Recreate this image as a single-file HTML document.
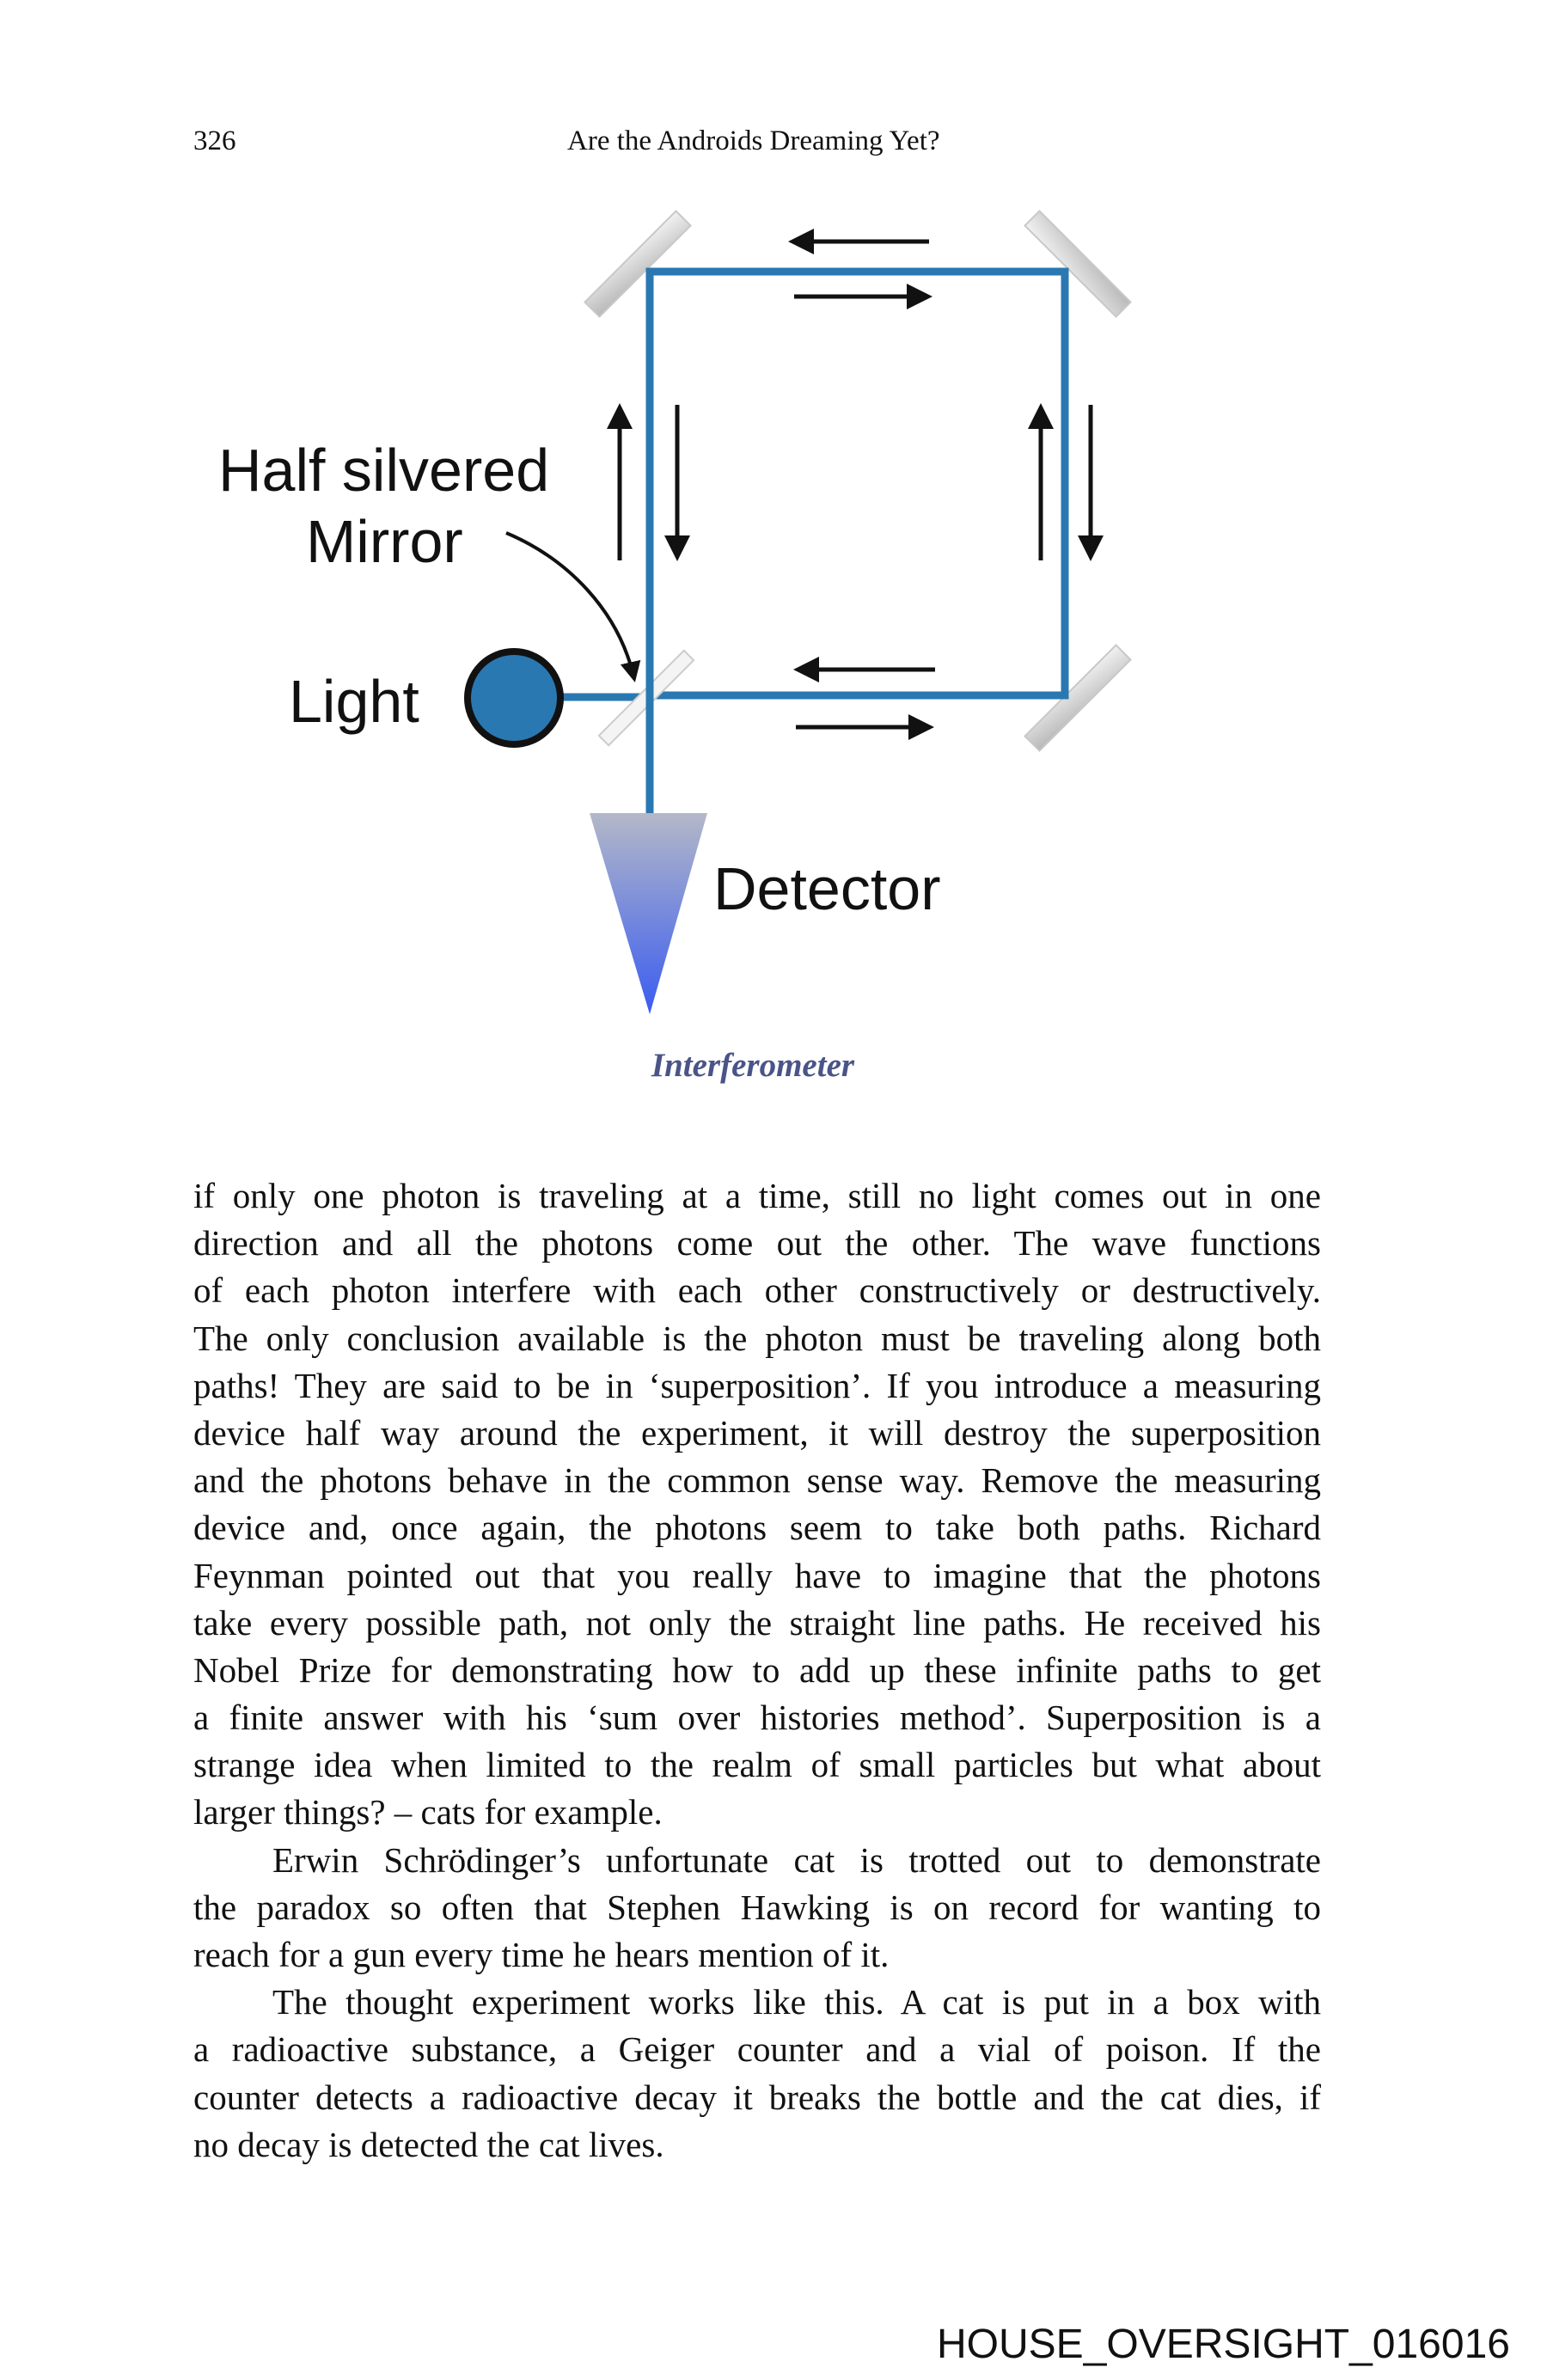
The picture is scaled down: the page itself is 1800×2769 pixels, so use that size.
<!DOCTYPE html>
<html><head><meta charset="utf-8"><style>
html,body{margin:0;padding:0;background:#fff;}
body{width:1800px;height:2769px;position:relative;overflow:hidden;font-family:"Liberation Serif",serif;color:#111;}
.hdr{position:absolute;top:146px;font-size:33px;}
.body{position:absolute;left:225px;top:1364px;width:1312px;font-size:41px;line-height:55.2px;}
.l{height:55.2px;white-space:nowrap;text-align:justify;text-align-last:justify;overflow:visible;word-spacing:-1px;}
.l.e{text-align-last:left;word-spacing:0;}
.in{padding-left:92px;}
.foot{position:absolute;left:1090px;top:2700px;font-family:"Liberation Sans",sans-serif;font-size:48px;}
</style></head><body>
<div class="hdr" style="left:225px">326</div>
<div class="hdr" style="left:660px">Are the Androids Dreaming Yet?</div>

<svg style="position:absolute;left:0;top:0" width="1800" height="1300" viewBox="0 0 1800 1300">
<defs>
<linearGradient id="g" x1="0" y1="0" x2="0" y2="1"><stop offset="0" stop-color="#b4b8c8"/><stop offset="1" stop-color="#3a5cf0"/></linearGradient>
<linearGradient id="m" x1="0" y1="0" x2="1" y2="1"><stop offset="0" stop-color="#f2f2f2"/><stop offset="1" stop-color="#b8b8b8"/></linearGradient>
<marker id="a" markerWidth="6" markerHeight="6" refX="5" refY="3" orient="auto" markerUnits="strokeWidth"><path d="M0,0 L6,3 L0,6 z" fill="#111"/></marker>
</defs>
<g fill="url(#m)" stroke="#c8c8c8" stroke-width="2">
<rect x="-12" y="-75" width="24" height="150" transform="translate(742,307) rotate(45)"/>
<rect x="-12" y="-75" width="24" height="150" transform="translate(1254,307) rotate(-45)"/>
<rect x="-12" y="-75" width="24" height="150" transform="translate(1254,812) rotate(45)"/>
</g>
<g stroke="#2a78b2" stroke-width="9" fill="none" stroke-linecap="square">
<polyline points="756,946 756,316 1239,316 1239,809 756,809"/>
<line x1="620" y1="811" x2="756" y2="811"/>
</g>
<rect x="-8" y="-70" width="16" height="140" fill="#f4f4f4" stroke="#ccc" stroke-width="2" transform="translate(752,812) rotate(45)"/>
<line x1="756" y1="790" x2="756" y2="835" stroke="#2a78b2" stroke-width="9"/>
<circle cx="598" cy="812" r="54" fill="#2a78b2" stroke="#111" stroke-width="8"/>
<polygon points="686,946 823,946 756,1180" fill="url(#g)"/>
<g stroke="#111" stroke-width="5" fill="none" marker-end="url(#a)">
<line x1="1081" y1="281" x2="922" y2="281"/>
<line x1="924" y1="345" x2="1080" y2="345"/>
<line x1="1088" y1="779" x2="928" y2="779"/>
<line x1="926" y1="846" x2="1082" y2="846"/>
<line x1="721" y1="652" x2="721" y2="474"/>
<line x1="788" y1="471" x2="788" y2="648"/>
<line x1="1211" y1="652" x2="1211" y2="474"/>
<line x1="1269" y1="471" x2="1269" y2="648"/>
<path d="M589,620 C660,650 720,710 738,790" stroke-width="4"/>
</g>
<g font-family="Liberation Sans, sans-serif" font-size="70" fill="#111">
<text x="254" y="571">Half silvered</text>
<text x="356" y="654">Mirror</text>
<text x="336" y="840">Light</text>
<text x="830" y="1058">Detector</text>
</g>
<text x="876" y="1252" text-anchor="middle" font-family="Liberation Serif, serif" font-style="italic" font-weight="bold" font-size="39" fill="#4a5488">Interferometer</text>
</svg>

<div class="body">
<div class="l">if only one photon is traveling at a time, still no light comes out in one</div>
<div class="l">direction and all the photons come out the other. The wave functions</div>
<div class="l">of each photon interfere with each other constructively or destructively.</div>
<div class="l">The only conclusion available is the photon must be traveling along both</div>
<div class="l">paths! They are said to be in ‘superposition’. If you introduce a measuring</div>
<div class="l">device half way around the experiment, it will destroy the superposition</div>
<div class="l">and the photons behave in the common sense way. Remove the measuring</div>
<div class="l">device and, once again, the photons seem to take both paths. Richard</div>
<div class="l">Feynman pointed out that you really have to imagine that the photons</div>
<div class="l">take every possible path, not only the straight line paths. He received his</div>
<div class="l">Nobel Prize for demonstrating how to add up these infinite paths to get</div>
<div class="l">a finite answer with his ‘sum over histories method’. Superposition is a</div>
<div class="l">strange idea when limited to the realm of small particles but what about</div>
<div class="l e">larger things? – cats for example.</div>
<div class="l in">Erwin Schrödinger’s unfortunate cat is trotted out to demonstrate</div>
<div class="l">the paradox so often that Stephen Hawking is on record for wanting to</div>
<div class="l e">reach for a gun every time he hears mention of it.</div>
<div class="l in">The thought experiment works like this. A cat is put in a box with</div>
<div class="l">a radioactive substance, a Geiger counter and a vial of poison. If the</div>
<div class="l">counter detects a radioactive decay it breaks the bottle and the cat dies, if</div>
<div class="l e">no decay is detected the cat lives.</div>
</div>

<div class="foot">HOUSE_OVERSIGHT_016016</div>
</body></html>
